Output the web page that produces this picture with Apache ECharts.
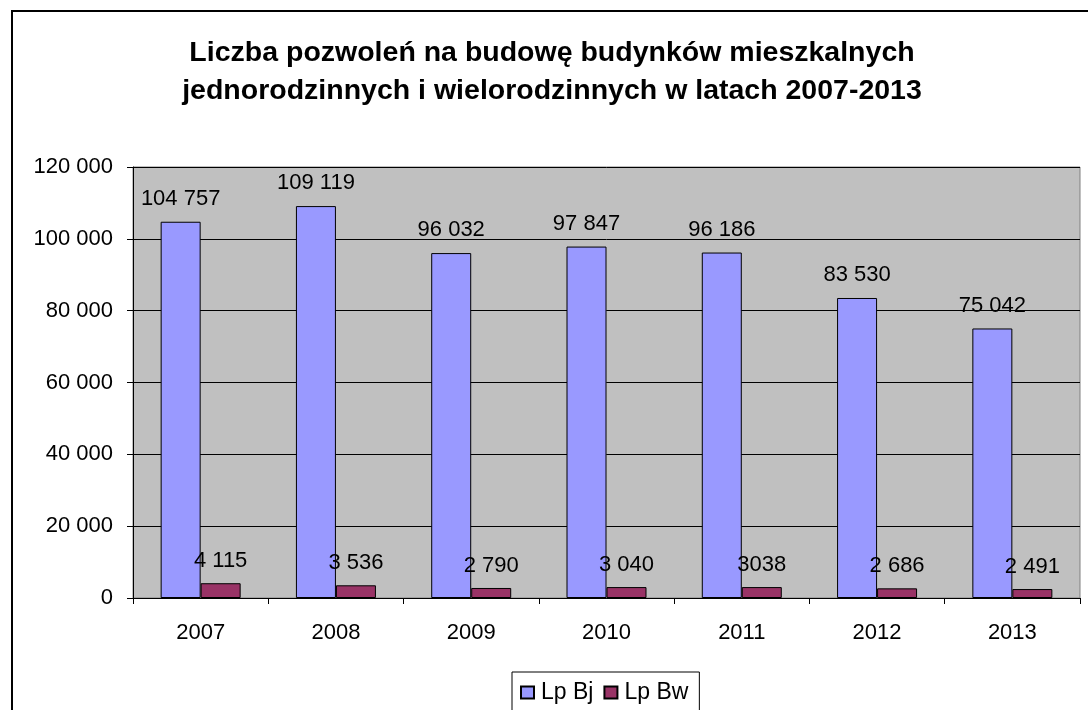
<!DOCTYPE html>
<html>
<head>
<meta charset="utf-8">
<script src="https://cdn.jsdelivr.net/npm/echarts@6/dist/echarts.min.js"></script>
<style>
html,body{margin:0;padding:0;background:#fff;}
#chart{width:1088px;height:710px;}
</style>
</head>
<body>
<div id="chart"></div>
<script>
const titleLines = ['Liczba pozwoleń na budowę budynków mieszkalnych', 'jednorodzinnych i wielorodzinnych w latach 2007-2013'];
const categories = ['2007', '2008', '2009', '2010', '2011', '2012', '2013'];
const seriesNames = ['Lp Bj', 'Lp Bw'];
const bjValues = [104757, 109119, 96032, 97847, 96186, 83530, 75042];
const bwValues = [4115, 3536, 2790, 3040, 3038, 2686, 2491];
const bjLabels = ['104 757', '109 119', '96 032', '97 847', '96 186', '83 530', '75 042'];
const bwLabels = ['4 115', '3 536', '2 790', '3 040', '3038', '2 686', '2 491'];
const yTicks = [0, 20000, 40000, 60000, 80000, 100000, 120000];

const FONT = 'Arial, "Liberation Sans", sans-serif';
const fmt = v => String(v).replace(/\B(?=(\d{3})+(?!\d))/g, ' ');

const chart = echarts.init(document.getElementById('chart'), null, {renderer: 'canvas'});
chart.setOption({
  animation: false,
  backgroundColor: '#fff',
  textStyle: {fontFamily: FONT},
  graphic: [
    {type: 'rect', silent: true, z: -10,
     shape: {x: 12, y: 11, width: 1300, height: 900},
     style: {fill: 'none', stroke: '#000', lineWidth: 2}},
    {type: 'text', silent: true,
     x: 552, y: 34,
     style: {text: titleLines.join('\n'), font: 'bold 28.5px ' + FONT, fill: '#000',
             align: 'center', lineHeight: 38}}
  ],
  legend: {
    data: seriesNames,
    left: 512, top: 672,
    orient: 'horizontal',
    padding: [9, 11, 30, 8],
    borderColor: '#000', borderWidth: 1,
    itemWidth: 13, itemHeight: 12, itemGap: 10,
    icon: 'rect',
    textStyle: {fontSize: 23, color: '#000', fontFamily: FONT, padding: [0, 0, 0, 2]}
  },
  grid: {
    left: 133, right: 8, top: 167, bottom: 112,
    show: true, backgroundColor: '#C0C0C0', borderColor: '#808080', borderWidth: 1
  },
  xAxis: {
    type: 'category',
    data: categories,
    axisLine: {lineStyle: {color: '#000', width: 1}},
    axisTick: {show: true, alignWithLabel: false, length: 6, lineStyle: {color: '#000'}},
    axisLabel: {fontSize: 22, color: '#000', margin: 24, fontFamily: FONT},
    splitLine: {show: false}
  },
  yAxis: {
    type: 'value',
    min: yTicks[0], max: yTicks[yTicks.length - 1], interval: yTicks[1] - yTicks[0],
    axisLine: {show: true, lineStyle: {color: '#000', width: 1}},
    axisTick: {show: true, length: 6, lineStyle: {color: '#000'}},
    axisLabel: {fontSize: 22, color: '#000', margin: 20, fontFamily: FONT, formatter: fmt},
    splitLine: {show: true, lineStyle: {color: '#000', width: 1}}
  },
  series: [
    {
      name: seriesNames[0], type: 'bar', data: bjValues,
      barWidth: 40, barGap: '0%', barCategoryGap: '0%',
      itemStyle: {color: '#9999FF', borderColor: '#000', borderWidth: 1},
      label: {show: true, position: 'top', distance: 12, fontSize: 22, color: '#000', fontFamily: FONT,
              formatter: p => bjLabels[p.dataIndex]}
    },
    {
      name: seriesNames[1], type: 'bar', data: bwValues,
      barWidth: 40, barGap: '0%',
      itemStyle: {color: '#993366', borderColor: '#000', borderWidth: 1},
      label: {show: true, position: 'top', distance: 11, fontSize: 22, color: '#000', fontFamily: FONT,
              formatter: p => bwLabels[p.dataIndex]}
    }
  ]
});
</script>
</body>
</html>
